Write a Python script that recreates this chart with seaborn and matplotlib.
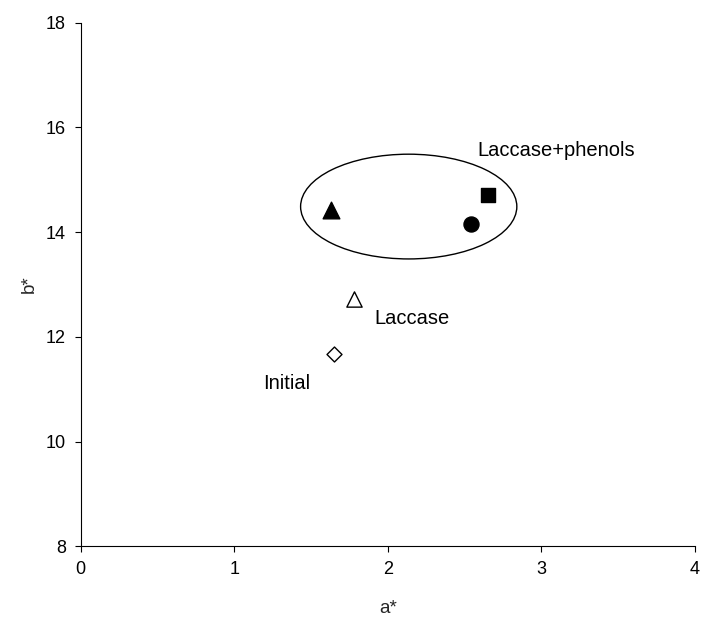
import matplotlib
matplotlib.use("Agg")
import matplotlib.pyplot as plt
from matplotlib.patches import Ellipse
import seaborn as sns
import pandas as pd

# CIELAB colour coordinates of the treated samples
samples = ["Initial", "Laccase", "Phenol 1", "Phenol 2", "Phenol 3"]
a_star = [1.65, 1.78, 1.63, 2.65, 2.54]
b_star = [11.67, 12.72, 14.42, 14.71, 14.15]

# Marker shape / fill for each sample
markers = ["D", "^", "^", "s", "o"]
fills = ["white", "white", "black", "black", "black"]
sizes = [58, 121, 144, 106, 117]

# Annotations
labels = ["Initial", "Laccase", "Laccase+phenols"]
label_a = [1.19, 1.91, 2.58]
label_b = [11.12, 12.36, 15.56]

x_ticks = [0, 1, 2, 3, 4]
y_ticks = [8, 10, 12, 14, 16, 18]

df = pd.DataFrame({"sample": samples, "a": a_star, "b": b_star})

sns.set_style("ticks")
plt.rcParams["font.family"] = ["Liberation Sans", "DejaVu Sans"]

fig = plt.figure(figsize=(7.01, 6.21), dpi=100)
ax = fig.add_axes([0.1151, 0.12, 0.8763, 0.8434])

for i in range(len(df)):
    sns.scatterplot(data=df.iloc[[i]], x="a", y="b", marker=markers[i],
                    s=sizes[i], color=fills[i], edgecolor="black",
                    linewidth=1.0, ax=ax, legend=False, zorder=3)

# Group outline around the laccase + phenol samples
ax.add_patch(Ellipse((2.136, 14.49), width=1.408, height=2.0, fill=False,
                     edgecolor="black", linewidth=1.0, zorder=2))

for t, xa, yb in zip(labels, label_a, label_b):
    ax.text(xa, yb, t, fontsize=14.5, ha="left", va="center", color="black")

ax.set_xlim(0, 4)
ax.set_ylim(8, 18)
ax.set_xticks(x_ticks)
ax.set_yticks(y_ticks)
ax.tick_params(axis="both", direction="out", length=4.5, width=0.8,
               labelsize=13, colors="black", pad=6)
ax.set_xlabel("a*", fontsize=13.5, labelpad=16)
ax.set_ylabel("b*", fontsize=13.5, labelpad=6)
sns.despine(ax=ax)
for sp in ["left", "bottom"]:
    ax.spines[sp].set_linewidth(0.8)
    ax.spines[sp].set_color("black")

fig.savefig("out.png", dpi=100, facecolor="white")
